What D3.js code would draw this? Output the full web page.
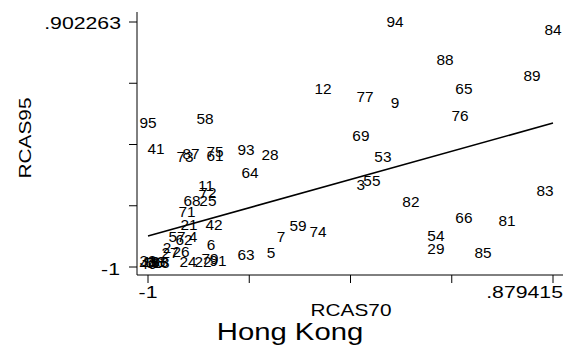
<!DOCTYPE html>
<html>
<head>
<meta charset="utf-8">
<script src="https://cdn.jsdelivr.net/npm/d3@7"></script>
<style>
  body { margin: 0; background: #fff; }
  svg { display: block; font-family: "Liberation Sans", Arial, sans-serif; }
</style>
</head>
<body>
<div id="chart"></div>
<script>
// valeurs (RCAS70 en x, RCAS95 en y)
const labels = ["95","58","12","94","84","88","89","65","77","9","76","69","41","73","87","75","61","93","28","64",
  "11","72","68","25","71","21","42","57","62","4","6","2","27","26","24","22","79","91","63","5","7","59","74",
  "53","55","3","83","82","66","81","54","29","85","33","18","38","13","8","46","56"];
const rcas70 = [-1,-0.735,-0.188,0.146,0.879415,0.378,0.782,0.466,0.007,0.146,0.448,-0.012,-0.963,-0.828,-0.800,-0.689,-0.689,-0.545,-0.434,-0.527,
  -0.731,-0.722,-0.796,-0.722,-0.819,-0.810,-0.694,-0.865,-0.833,-0.791,-0.708,-0.912,-0.898,-0.847,-0.814,-0.745,-0.712,-0.675,-0.545,-0.429,-0.383,-0.304,-0.211,
  0.090,0.039,-0.012,0.842,0.220,0.466,0.666,0.336,0.336,0.555,-1,-0.985,-0.96,-0.94,-0.925,-1,-0.97];
const rcas95 = [0.118,0.149,0.382,0.902263,0.840,0.607,0.483,0.382,0.320,0.273,0.172,0.017,-0.084,-0.146,-0.123,-0.107,-0.138,-0.092,-0.130,-0.270,
  -0.371,-0.425,-0.488,-0.488,-0.573,-0.674,-0.674,-0.767,-0.790,-0.767,-0.829,-0.852,-0.891,-0.884,-0.961,-0.961,-0.938,-0.953,-0.907,-0.891,-0.767,-0.682,-0.728,
  -0.146,-0.332,-0.363,-0.410,-0.495,-0.620,-0.643,-0.759,-0.860,-0.891,-0.955,-0.965,-0.96,-0.97,-0.965,-0.975,-0.968];

// droite ajustée (valeurs aux extrémités)
const fitX = [-1, 0.879415];
const fitY = [-0.759, 0.118];

const xDomain = [-1, 0.879415];
const yDomain = [-1, 0.902263];
const xTickLabels = ["-1", ".879415"];
const yTickLabels = ["-1", ".902263"];
const xTitle = "RCAS70";
const yTitle = "RCAS95";
const title = "Hong Kong";

const width = 573, height = 347;
const svg = d3.select("#chart").append("svg")
  .attr("width", width).attr("height", height);

const x = d3.scaleLinear().domain(xDomain).range([148, 553]);
const y = d3.scaleLinear().domain(yDomain).range([267, 22]);

const axisLeft = 137, axisBottom = 275, plotTop = 12, plotRight = 563;

// petit utilitaire : texte étiré horizontalement comme dans l'original
function wideText(g, px, py, txt, size, anchor, sx, rot) {
  return g.append("text")
    .attr("transform", `translate(${px},${py})${rot ? ` rotate(${rot})` : ""} scale(${sx},1)`)
    .attr("text-anchor", anchor)
    .attr("font-size", size)
    .attr("fill", "#000")
    .text(txt);
}

// axes
svg.append("line").attr("x1", axisLeft).attr("x2", axisLeft).attr("y1", plotTop).attr("y2", axisBottom)
  .attr("stroke", "#000").attr("stroke-width", 1);
svg.append("line").attr("x1", axisLeft).attr("x2", plotRight).attr("y1", axisBottom).attr("y2", axisBottom)
  .attr("stroke", "#000").attr("stroke-width", 1);

const yTicks = d3.range(5).map(i => yDomain[0] + i * (yDomain[1] - yDomain[0]) / 4);
const xTicks = d3.range(5).map(i => xDomain[0] + i * (xDomain[1] - xDomain[0]) / 4);

svg.selectAll(".ytick").data(yTicks).enter().append("line")
  .attr("x1", axisLeft - 8).attr("x2", axisLeft)
  .attr("y1", d => y(d)).attr("y2", d => y(d))
  .attr("stroke", "#000");
svg.selectAll(".xtick").data(xTicks).enter().append("line")
  .attr("x1", d => x(d)).attr("x2", d => x(d))
  .attr("y1", axisBottom).attr("y2", axisBottom + 8)
  .attr("stroke", "#000");

wideText(svg, 121, y(yDomain[1]) + 7, yTickLabels[1], 17, "end", 1.25);
wideText(svg, 120, y(yDomain[0]) + 8, yTickLabels[0], 17, "end", 1.25);
wideText(svg, x(xDomain[0]), 298, xTickLabels[0], 17, "middle", 1.25);
wideText(svg, plotRight, 298, xTickLabels[1], 17, "end", 1.25);

wideText(svg, 351, 316, xTitle, 16, "middle", 1.3);
wideText(svg, 31, 138, yTitle, 16, "middle", 1.3, -90);
wideText(svg, 290, 340, title, 24, "middle", 1.22);

// droite de régression
svg.append("line")
  .attr("x1", x(fitX[0])).attr("y1", y(fitY[0]))
  .attr("x2", x(fitX[1])).attr("y2", y(fitY[1]))
  .attr("stroke", "#000").attr("stroke-width", 1.6);

// étiquettes des points
const pts = labels.map((l, i) => ({ l, vx: rcas70[i], vy: rcas95[i] }));
const gPts = svg.append("g");
pts.forEach(d => {
  wideText(gPts, x(d.vx), y(d.vy) + 5, d.l, 14, "middle", 1.1);
});
</script>
</body>
</html>
